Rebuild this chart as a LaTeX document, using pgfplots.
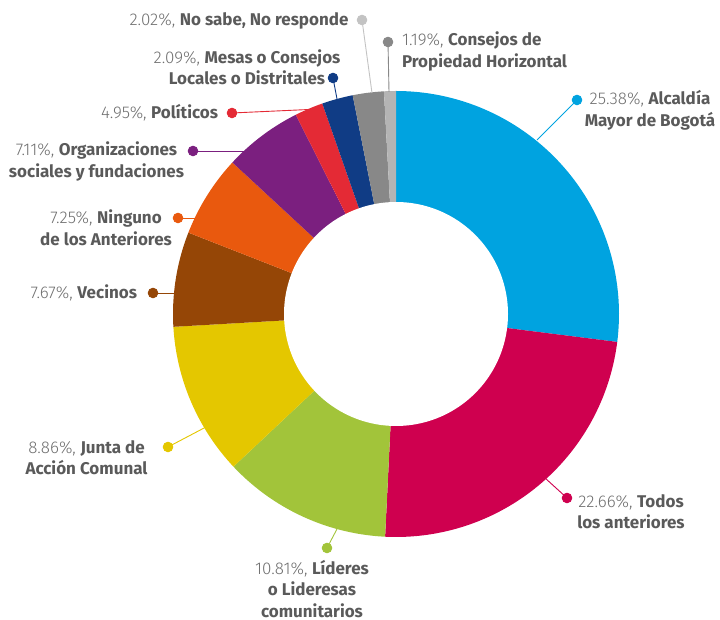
\documentclass[border=0pt]{standalone}
\usepackage{pgfplots}
\pgfplotsset{compat=1.18}
\usepackage{fontspec}
\setmainfont{Fira Sans}
\newfontfamily\lightfont{Fira Sans Light}
\definecolor{cBlue}{HTML}{00A3E0}
\definecolor{cCrim}{HTML}{CF004F}
\definecolor{cGreen}{HTML}{A2C43A}
\definecolor{cYel}{HTML}{E4C700}
\definecolor{cBrown}{HTML}{954606}
\definecolor{cOrange}{HTML}{E9590E}
\definecolor{cPurple}{HTML}{7B1F7F}
\definecolor{cRed}{HTML}{E42A35}
\definecolor{cNavy}{HTML}{103C85}
\definecolor{cGray}{HTML}{888888}
\definecolor{cLGray}{HTML}{B4B4B4}
\definecolor{numc}{HTML}{6F6F6F}
\definecolor{namec}{HTML}{5A5A5A}
\newcommand\lt[1]{{\lightfont\color{numc}#1}}
\newcommand\bd[1]{{\bfseries\color{namec}#1}}
\begin{document}
\begin{tikzpicture}[lbl/.style={font=\fontsize{17}{21.5}\selectfont, inner sep=0pt, outer sep=0pt}]
\begin{axis}[
  scale only axis, width=720pt, height=620pt,
  xmin=-396, xmax=324, ymin=-306, ymax=314,
  hide axis, clip=false,
]
% slices: start and end angles (degrees, counterclockwise from east)
\addplot[fill=cBlue, draw=none, domain=-7.2:90, samples=80] ({223*cos(x)},{223*sin(x)}) -- (axis cs:0,0) -- cycle;
\addplot[fill=cCrim, draw=none, domain=-92.8:-7.2, samples=80] ({223*cos(x)},{223*sin(x)}) -- (axis cs:0,0) -- cycle;
\addplot[fill=cGreen, draw=none, domain=223.2:267.2, samples=50] ({223*cos(x)},{223*sin(x)}) -- (axis cs:0,0) -- cycle;
\addplot[fill=cYel, draw=none, domain=183.3:223.2, samples=50] ({223*cos(x)},{223*sin(x)}) -- (axis cs:0,0) -- cycle;
\addplot[fill=cBrown, draw=none, domain=158.6:183.3, samples=40] ({223*cos(x)},{223*sin(x)}) -- (axis cs:0,0) -- cycle;
\addplot[fill=cOrange, draw=none, domain=137.2:158.6, samples=40] ({223*cos(x)},{223*sin(x)}) -- (axis cs:0,0) -- cycle;
\addplot[fill=cPurple, draw=none, domain=116.7:137.2, samples=40] ({223*cos(x)},{223*sin(x)}) -- (axis cs:0,0) -- cycle;
\addplot[fill=cRed, draw=none, domain=109.3:116.7, samples=20] ({223*cos(x)},{223*sin(x)}) -- (axis cs:0,0) -- cycle;
\addplot[fill=cNavy, draw=none, domain=101.2:109.3, samples=20] ({223*cos(x)},{223*sin(x)}) -- (axis cs:0,0) -- cycle;
\addplot[fill=cGray, draw=none, domain=93.1:101.2, samples=20] ({223*cos(x)},{223*sin(x)}) -- (axis cs:0,0) -- cycle;
\addplot[fill=cLGray, draw=none, domain=90:93.1, samples=10] ({223*cos(x)},{223*sin(x)}) -- (axis cs:0,0) -- cycle;
% hole
\addplot[fill=white, draw=none, domain=0:360, samples=200] ({112*cos(x)},{112*sin(x)}) -- cycle;
% leader lines and dots
\addplot[color=cLGray!80, line width=0.9pt, mark=*, mark size=4.8pt, mark indices={1}] coordinates {(-34,294) (-24,221)};
\addplot[color=cGray, line width=0.9pt, mark=*, mark size=4.8pt, mark indices={1}] coordinates {(-8,272) (-7,222)};
\addplot[color=cNavy, line width=0.9pt, mark=*, mark size=4.8pt, mark indices={1}] coordinates {(-63,236) (-59,215)};
\addplot[color=cRed, line width=0.9pt, mark=*, mark size=4.8pt, mark indices={1}] coordinates {(-164,201) (-76,205)};
\addplot[color=cPurple, line width=0.9pt, mark=*, mark size=4.8pt, mark indices={1}] coordinates {(-203,163) (-152,163)};
\addplot[color=cOrange, line width=0.9pt, mark=*, mark size=4.8pt, mark indices={1}] coordinates {(-218,96) (-200,96)};
\addplot[color=cBrown, line width=0.9pt, mark=*, mark size=4.8pt, mark indices={1}] coordinates {(-243,21) (-221,21)};
\addplot[color=cYel, line width=0.9pt, mark=*, mark size=4.8pt, mark indices={1}] coordinates {(-228,-133) (-190,-113)};
\addplot[color=cGreen, line width=0.9pt, mark=*, mark size=4.8pt, mark indices={1}] coordinates {(-69,-234) (-59,-215)};
\addplot[color=cCrim, line width=0.9pt, mark=*, mark size=4.8pt, mark indices={1}] coordinates {(171,-184) (149,-164)};
\addplot[color=cBlue, line width=0.9pt, mark=*, mark size=4.8pt, mark indices={1}] coordinates {(181,214) (141,174)};
% labels
\node[lbl, anchor=center] at (axis cs:-157,293) {\lt{2.02\%,} \bd{No sabe, No responde}};
\node[lbl, anchor=west, align=left] at (axis cs:6,262.5) {\lt{1.19\%,} \bd{Consejos de}\\\bd{Propiedad Horizontal}};
\node[lbl, anchor=center, align=center] at (axis cs:-149,246.5) {\lt{2.09\%,} \bd{Mesas o Consejos}\\\bd{Locales o Distritales}};
\node[lbl, anchor=east] at (axis cs:-178,201) {\lt{4.95\%,} \bd{Políticos}};
\node[lbl, anchor=center, align=center] at (axis cs:-299.5,152.5) {\lt{7.11\%,} \bd{Organizaciones}\\\bd{sociales y fundaciones}};
\node[lbl, anchor=center, align=center] at (axis cs:-290,86) {\lt{7.25\%,} \bd{Ninguno}\\\bd{de los Anteriores}};
\node[lbl, anchor=east] at (axis cs:-259,21) {\lt{7.67\%,} \bd{Vecinos}};
\node[lbl, anchor=center, align=center] at (axis cs:-309.5,-143.5) {\lt{8.86\%,} \bd{Junta de}\\\bd{Acción Comunal}};
\node[lbl, anchor=center, align=center] at (axis cs:-84,-275) {\lt{10.81\%,} \bd{Líderes}\\\bd{o Lideresas}\\\bd{comunitarios}};
\node[lbl, anchor=center, align=center] at (axis cs:235,-197.5) {\lt{22.66\%,} \bd{Todos}\\\bd{los anteriores}};
\node[lbl, anchor=center, align=center] at (axis cs:254,203.5) {\lt{25.38\%,} \bd{Alcaldía}\\\bd{Mayor de Bogotá}};
\end{axis}
\pgfresetboundingbox
\path[use as bounding box] (current axis.south west) rectangle (current axis.north east);
\end{tikzpicture}
\end{document}
